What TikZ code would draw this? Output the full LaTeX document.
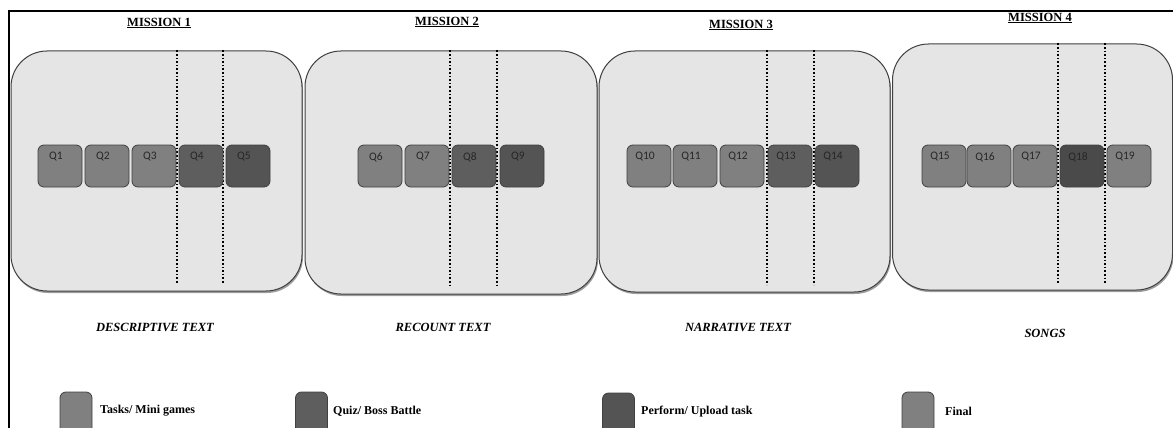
\documentclass[tikz,border=0pt]{standalone}
\usepackage{fontspec}
\setmainfont{Liberation Serif}
\newfontfamily\qfont{Carlito}
\usetikzlibrary{shadows}
\definecolor{boxfill}{HTML}{E5E5E5}
\definecolor{boxline}{HTML}{404040}
\definecolor{taskc}{HTML}{808080}
\definecolor{quizc}{HTML}{5E5E5E}
\definecolor{perfc}{HTML}{545454}
\definecolor{darkc}{HTML}{4A4A4A}
\tikzset{
  mbox/.style={draw=boxline, line width=1pt, fill=boxfill, rounded corners=36pt, inner sep=0pt,
    drop shadow={shadow xshift=1pt, shadow yshift=-2pt, opacity=0.55, fill=black!70}},
  qbox/.style={draw=black!75, line width=0.8pt, rounded corners=6pt, minimum width=44pt, minimum height=42pt, inner sep=0pt},
  lbox/.style={draw=black!75, line width=0.8pt, rounded corners=6pt, minimum width=32pt, minimum height=44pt, inner sep=0pt},
  qlab/.style={font=\qfont\fontsize{11.5}{13}\selectfont, text=black!85, inner sep=0pt},
  mtitle/.style={font=\bfseries\fontsize{12.5}{14}\selectfont, inner sep=0pt},
  ttitle/.style={font=\bfseries\itshape\fontsize{12.5}{14}\selectfont, inner sep=0pt},
  ltext/.style={font=\bfseries\fontsize{12}{14}\selectfont, anchor=west, inner sep=0pt},
  divider/.style={line width=1.6pt, dotted, black},
  frame/.style={line width=2pt, black}
}
\begin{document}
\begin{tikzpicture}[x=1pt,y=-1pt]
\useasboundingbox (0,0) rectangle (1173,428);
\clip (0,0) rectangle (1173,428);
% frame
\coordinate (ftl) at (9,11);
\coordinate (ftr) at (1175,11);
\coordinate (fbl) at (9,430);
\draw[frame] (ftr) -- (ftl) -- (fbl);
% mission boxes
\node[mbox, minimum width=291pt, minimum height=240pt] (m1) at (156.5,171) {};
\node[mbox, minimum width=292pt, minimum height=243pt] (m2) at (451,172.5) {};
\node[mbox, minimum width=291pt, minimum height=241pt] (m3) at (744.5,171.5) {};
\node[mbox, minimum width=280pt, minimum height=246pt] (m4) at (1032.5,167) {};
% dividers
\foreach \n/\xa/\xb in {m1/177/223, m2/450/497, m3/767/814, m4/1058/1105}{
  \draw[divider] (\xa,0 |- \n.north) -- ([yshift=8pt]\xa,0 |- \n.south);
  \draw[divider] (\xb,0 |- \n.north) -- ([yshift=8pt]\xb,0 |- \n.south);
}
% Q boxes
\foreach \name/\cx/\col in {q1/60/taskc, q2/107/taskc, q3/154/taskc, q4/201/quizc, q5/248/perfc,
  q6/380/taskc, q7/427/taskc, q8/474/quizc, q9/522/perfc,
  q10/649/taskc, q11/695/taskc, q12/742/taskc, q13/790/quizc, q14/837/perfc,
  q15/944/taskc, q16/989/taskc, q17/1035/taskc, q18/1082/darkc, q19/1129/taskc}{
  \node[qbox, fill=\col] (\name) at (\cx,166) {};
}
\foreach \name/\lab in {q1/Q1,q2/Q2,q3/Q3,q4/Q4,q5/Q5,q6/Q6,q7/Q7,q8/Q8,q9/Q9,q10/Q10,q11/Q11,q12/Q12,q13/Q13,q14/Q14,q15/Q15,q16/Q16,q17/Q17,q18/Q18,q19/Q19}{
  \node[qlab] (\name-l) at ([xshift=-4pt,yshift=9pt]\name.center) {\lab};
}
% mission titles
\node[mtitle] (t1) at (159,23) {\underline{MISSION 1}};
\node[mtitle] (t2) at (447,22) {\underline{MISSION 2}};
\node[mtitle] (t3) at (741,25) {\underline{MISSION 3}};
\node[mtitle] (t4) at (1040,18) {\underline{MISSION 4}};
% genre labels
\node[ttitle] (g1) at (155,327) {DESCRIPTIVE TEXT};
\node[ttitle] (g2) at (443,327) {RECOUNT TEXT};
\node[ttitle] (g3) at (738,327) {NARRATIVE TEXT};
\node[ttitle] (g4) at (1045,333) {SONGS};
% legend
\node[lbox, fill=taskc] (l1) at (76,414) {};
\node[ltext] (l1t) at (100,411) {Tasks/ Mini games};
\node[lbox, fill=quizc] (l2) at (311.5,414) {};
\node[ltext] (l2t) at (333,411) {Quiz/ Boss Battle};
\node[lbox, fill=perfc] (l3) at (618.5,415) {};
\node[ltext] (l3t) at (641,412) {Perform/ Upload task};
\node[lbox, fill=taskc] (l4) at (918,414) {};
\node[ltext] (l4t) at (945,411) {Final};
\end{tikzpicture}
\end{document}
